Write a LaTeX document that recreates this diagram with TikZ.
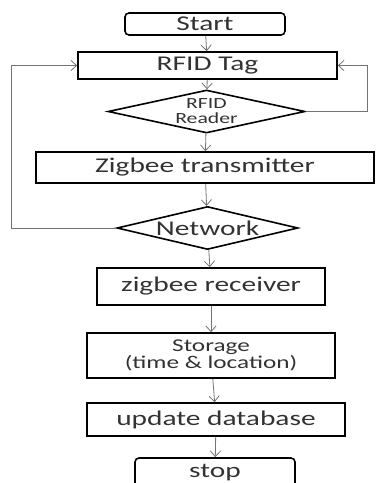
\documentclass[tikz,border=0pt]{standalone}
\usepackage{fontspec}
\newfontfamily\calib{Carlito}[FakeStretch=1.4]
\usepackage{tikz}
\usetikzlibrary{arrows.meta,shapes.geometric}
\definecolor{flowgray}{RGB}{115,115,115}
\definecolor{txtc}{RGB}{50,50,50}
\tikzset{
  proc/.style={rectangle,draw=black,line width=1.6pt,inner sep=0pt,align=center,
               text=txtc,font=\calib\fontsize{21}{22}\selectfont},
  term/.style={proc,rounded corners=4pt},
  dec/.style={diamond,draw=black,line width=1.6pt,inner sep=0pt,aspect=4.4,align=center,
              text=txtc,font=\calib\fontsize{21}{22}\selectfont},
  flow/.style={-{Straight Barb[length=2mm,width=3.6mm]},line width=0.8pt,flowgray},
}

\begin{document}
\begin{tikzpicture}[x=1pt,y=-1pt]
  \useasboundingbox (0,0) rectangle (377,483);
  % boxes, top to bottom
  \node[term,minimum width=160pt,minimum height=22pt] (start) at (205,24) {Start};
  \node[proc,minimum width=259pt,minimum height=27pt] (tag) at (207.5,65.5) {RFID Tag};
  \node[dec,minimum width=197pt,minimum height=43pt,
        font=\calib\fontsize{15.5}{15}\selectfont] (reader) at (206.5,111.5) {RFID\\Reader};
  \node[proc,minimum width=338pt,minimum height=31pt] (ztx) at (205,167.5) {Zigbee transmitter};
  \node[dec,minimum width=181pt,minimum height=43pt] (net) at (207.5,228) {Network};
  \node[proc,minimum width=228pt,minimum height=37pt] (zrx) at (211,286.5) {zigbee receiver};
  \node[proc,minimum width=248pt,minimum height=45pt,
        font=\calib\fontsize{18}{17}\selectfont] (store) at (211,355.5) {Storage\\(time \& location)};
  \node[proc,minimum width=258pt,minimum height=33pt] (updb) at (216,419.5) {update database};
  \node[term,minimum width=160pt,minimum height=30pt] (stop) at (215,473) {stop};
  % loop corners
  \coordinate (lft) at (11,0);
  \coordinate (rgt) at (367,0);
  % main flow
  \draw[flow] (start) -- (tag);
  \draw[flow] (tag) -- (reader);
  \draw[flow] (reader) -- (ztx);
  \draw[flow] (ztx) -- (net);
  \draw[flow] (net) -- (zrx);
  \draw[flow] (zrx) -- (store);
  \draw[flow] (store) -- (updb);
  \draw[flow] (updb) -- (stop);
  % feedback
  \draw[flow] (reader.east) -- (reader.east -| rgt) |- (tag.east);
  \draw[flow] (net.west) -- (net.west -| lft) |- (tag.west);
\end{tikzpicture}
\end{document}
